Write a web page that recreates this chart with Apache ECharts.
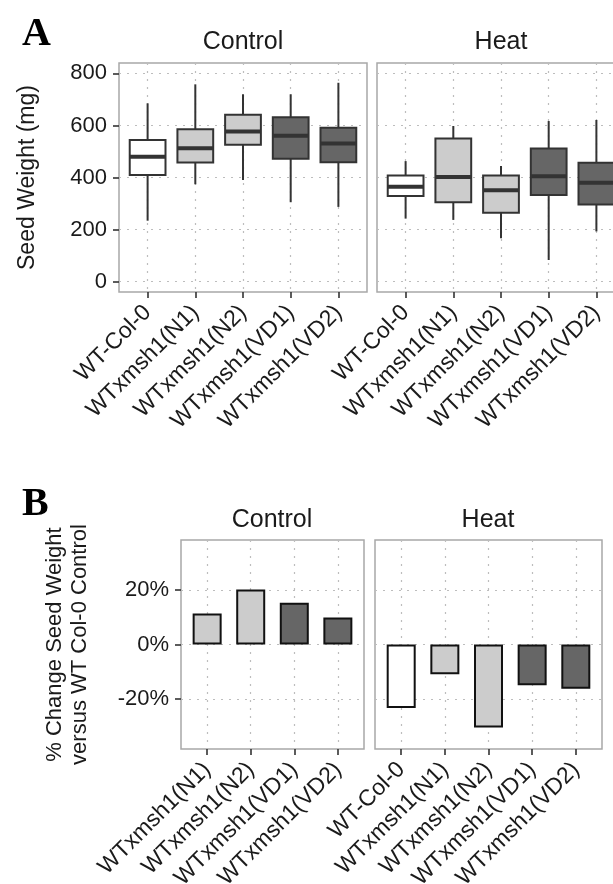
<!DOCTYPE html>
<html><head><meta charset="utf-8">
<script src="https://cdn.jsdelivr.net/npm/echarts@6/dist/echarts.min.js"></script>
<style>html,body{margin:0;padding:0;background:#fff}#c{width:613px;height:884px}</style>
</head><body><div id="c"></div>
<script>
// ---------- data ----------
const genotypes = ['WT-Col-0','WTxmsh1(N1)','WTxmsh1(N2)','WTxmsh1(VD1)','WTxmsh1(VD2)'];
// box stats: [min, Q1, median, Q3, max] (seed weight, mg)
const controlBoxes = [[234,410,480,544,685],[374,458,512,585,758],[390,526,577,641,720],[305,472,560,632,720],[287,459,531,591,764]];
const heatBoxes    = [[242,329,364,408,463],[237,305,402,550,598],[167,265,351,408,444],[83,333,405,511,617],[193,296,380,457,621]];
const weightTicks = [0,200,400,600,800];
// % change vs WT Col-0 control
const controlChangeGenotypes = ['WTxmsh1(N1)','WTxmsh1(N2)','WTxmsh1(VD1)','WTxmsh1(VD2)'];
const controlChange = [11.4, 20.2, 15.3, 9.9];
const heatChangeGenotypes = ['WT-Col-0','WTxmsh1(N1)','WTxmsh1(N2)','WTxmsh1(VD1)','WTxmsh1(VD2)'];
const heatChange = [-23.3, -10.9, -30.5, -15.0, -16.3];
const changeTicks = [-20, 0, 20];

// ---------- styles ----------
const fills = {'WT-Col-0':'#ffffff','WTxmsh1(N1)':'#cccccc','WTxmsh1(N2)':'#cccccc','WTxmsh1(VD1)':'#666666','WTxmsh1(VD2)':'#666666'};
const FONT = 'Liberation Sans, Arial, Helvetica, sans-serif';
const TXT = '#1a1a1a';

const chart = echarts.init(document.getElementById('c'), null, {renderer:'canvas'});

function gridDef(left, top, width, height){
  return {left, top, width, height, show:true, borderColor:'#a8a8a8', borderWidth:1.5, backgroundColor:'transparent', containLabel:false, outerBoundsMode:'none'};
}
function catXAxis(gridIndex, names){
  const idx = names.map((_, i) => i);
  return {type:'value', gridIndex, min:-0.6, max:names.length - 1 + 0.6,
    axisLine:{show:false, onZero:false},
    axisTick:{show:true, customValues:idx, length:6, lineStyle:{color:'#333', width:1.6}},
    axisLabel:{show:true, customValues:idx, formatter:v => names[Math.round(v)], rotate:45, fontSize:23, color:TXT, margin:17, fontFamily:FONT},
    splitLine:{show:true, lineStyle:{color:'#bdbdbd', type:[2,6], width:1.2}}
  };
}
function valYAxis(gridIndex, min, max, ticks, showLabels, fmt, name){
  return {type:'value', gridIndex, min, max,
    axisLine:{show:false, onZero:false},
    axisTick:{show:showLabels, customValues:ticks, length:6, lineStyle:{color:'#333', width:1.6}},
    axisLabel:{show:showLabels, customValues:ticks, formatter:fmt, fontSize:22, color:TXT, margin:12, fontFamily:FONT},
    splitLine:{show:true, lineStyle:{color:'#bdbdbd', type:[2,6], width:1.2}},
    name: name || '', nameLocation:'middle', nameGap:78, nameRotate:90,
    nameTextStyle:{fontSize:23, color:TXT, fontFamily:FONT, lineHeight:26}
  };
}
function boxSeries(axisIndex, boxes){
  return {type:'custom', xAxisIndex:axisIndex, yAxisIndex:axisIndex,
    encode:{x:0, y:[1,2,3,4,5]},
    data: boxes.map((b, i) => [i].concat(b)),
    renderItem: function(params, api){
      const x = api.value(0);
      const pMin = api.coord([x, api.value(1)]);
      const pQ1 = api.coord([x, api.value(2)]);
      const pMed = api.coord([x, api.value(3)]);
      const pQ3 = api.coord([x, api.value(4)]);
      const pMax = api.coord([x, api.value(5)]);
      const w = api.size([0.75, 0])[0];
      const fill = fills[genotypes[x]];
      const st = {stroke:'#333333', lineWidth:2};
      return {type:'group', children:[
        {type:'line', shape:{x1:pMin[0], y1:pMin[1], x2:pQ1[0], y2:pQ1[1]}, style:st},
        {type:'line', shape:{x1:pQ3[0], y1:pQ3[1], x2:pMax[0], y2:pMax[1]}, style:st},
        {type:'rect', shape:{x:pQ1[0] - w/2, y:pQ3[1], width:w, height:pQ1[1] - pQ3[1]}, style:{fill:fill, stroke:'#333333', lineWidth:2}},
        {type:'line', shape:{x1:pMed[0] - w/2, y1:pMed[1], x2:pMed[0] + w/2, y2:pMed[1]}, style:{stroke:'#333333', lineWidth:4}}
      ]};
    }
  };
}
function barSeries(axisIndex, names, vals){
  return {type:'bar', xAxisIndex:axisIndex, yAxisIndex:axisIndex, barWidth:29,
    data: vals.map((v, i) => ({value:[i, v], itemStyle:{color:fills[names[i]], borderColor:'#111111', borderWidth:2}})),
    emphasis:{disabled:true}
  };
}
function txt(x, y, text, size, extra){
  return {type:'text', x, y, style:Object.assign({text, fontSize:size, fontFamily:FONT, fill:TXT, textAlign:'center', textVerticalAlign:'middle'}, extra || {})};
}

const option = {
  animation:false,
  backgroundColor:'#ffffff',
  grid:[
    gridDef(119, 63, 248, 229),
    gridDef(377, 63, 248, 229),
    gridDef(181, 540, 183, 209),
    gridDef(375, 540, 227, 209)
  ],
  xAxis:[
    catXAxis(0, genotypes),
    catXAxis(1, genotypes),
    catXAxis(2, controlChangeGenotypes),
    catXAxis(3, heatChangeGenotypes)
  ],
  yAxis:[
    valYAxis(0, -40, 840, weightTicks, true, v => String(v), 'Seed Weight (mg)'),
    valYAxis(1, -40, 840, weightTicks, false, v => String(v)),
    Object.assign(valYAxis(2, -38.4, 38.4, changeTicks, true, v => v + '%', '% Change Seed Weight\nversus WT Col-0 Control'), {nameGap:89, nameTextStyle:{fontSize:22, color:TXT, fontFamily:FONT, lineHeight:25}}),
    valYAxis(3, -38.4, 38.4, changeTicks, false, v => v + '%')
  ],
  series:[
    boxSeries(0, controlBoxes),
    boxSeries(1, heatBoxes),
    barSeries(2, controlChangeGenotypes, controlChange),
    barSeries(3, heatChangeGenotypes, heatChange)
  ],
  graphic:[
    txt(243, 42, 'Control', 25),
    txt(501, 42, 'Heat', 25),
    txt(272, 520, 'Control', 25),
    txt(488, 520, 'Heat', 25),
    {type:'text', x:22, y:35, style:{text:'A', font:'bold 40px "Liberation Serif", "Times New Roman", serif', fill:'#000', textAlign:'left', textVerticalAlign:'middle'}},
    {type:'text', x:22, y:505, style:{text:'B', font:'bold 40px "Liberation Serif", "Times New Roman", serif', fill:'#000', textAlign:'left', textVerticalAlign:'middle'}}
  ]
};
chart.setOption(option);
</script></body></html>
